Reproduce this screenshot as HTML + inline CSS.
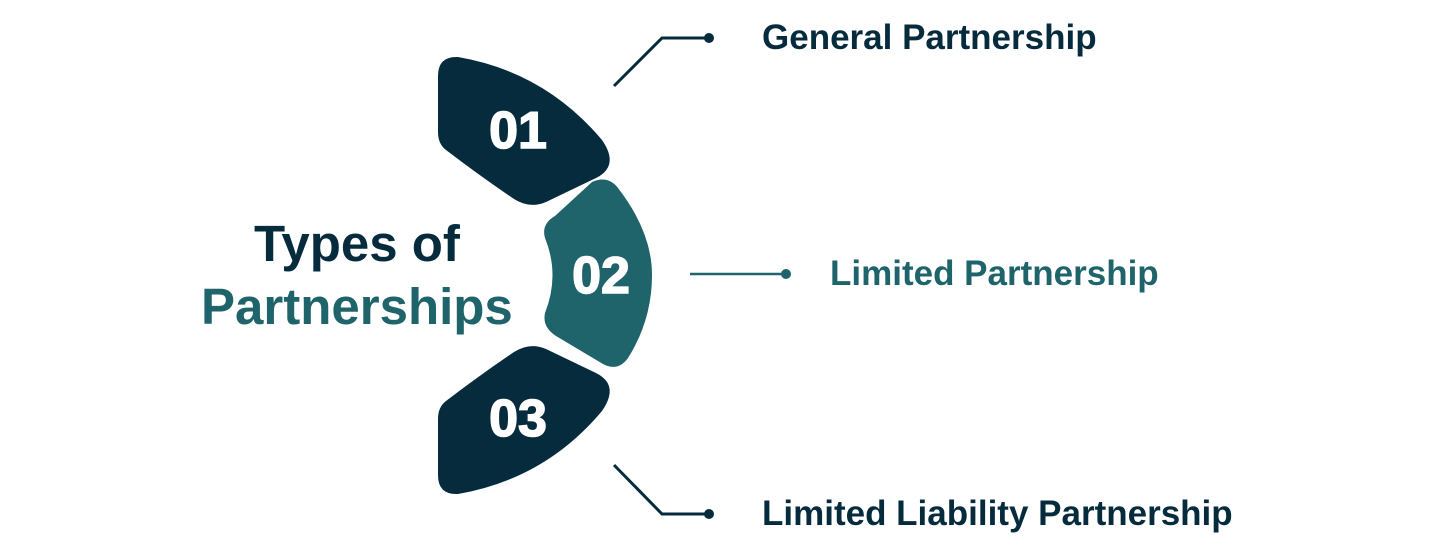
<!DOCTYPE html>
<html><head><style>
body{margin:0;width:1440px;height:551px;background:#fff;overflow:hidden;position:relative;font-family:"Liberation Sans",sans-serif;}
.t{position:absolute;font-weight:bold;white-space:nowrap}
</style></head><body>
<svg width="1440" height="551" style="position:absolute;left:0;top:0">
<path d="M458,57 Q545,72 602,140 Q620,166 596,178 L546,202 Q530,209 514,199 Q480,176 446,150 Q438,144 438,132 L438,76 Q438,56 458,57 Z" fill="#062b3d"/>
<path d="M458,494 Q545,479 602,411 Q620,385 596,373 L546,349 Q530,342 514,352 Q480,375 446,401 Q438,407 438,419 L438,475 Q438,495 458,494 Z" fill="#062b3d"/>
<path d="M592,182 Q608,175 618,188 Q652,232 652,275 Q652,320 628,358 Q618,372 603,364 L556,336 Q542,327 545,313 Q560,275 545,238 Q541,224 555,216 Z" fill="#1f636b"/>
<text x="518" y="148" font-family="Liberation Sans" font-weight="bold" font-size="52" fill="#fff" text-anchor="middle" stroke="#fff" stroke-width="1.5">01</text>
<text x="601" y="293" font-family="Liberation Sans" font-weight="bold" font-size="52" fill="#fff" text-anchor="middle" stroke="#fff" stroke-width="1.5">02</text>
<text x="518" y="436" font-family="Liberation Sans" font-weight="bold" font-size="52" fill="#fff" text-anchor="middle" stroke="#fff" stroke-width="1.5">03</text>
<polyline points="614,86 662,38 708,38" fill="none" stroke="#062b3d" stroke-width="3"/>
<circle cx="709" cy="38" r="5" fill="#062b3d"/>
<line x1="690" y1="274" x2="784" y2="274" stroke="#1f636b" stroke-width="2.5"/>
<circle cx="786" cy="274" r="5" fill="#1f636b"/>
<polyline points="614,465 662,514 708,514" fill="none" stroke="#062b3d" stroke-width="3"/>
<circle cx="709" cy="514" r="5" fill="#062b3d"/>
</svg>
<div class="t" style="left:762px;top:18px;font-size:35px;color:#062b3d">General Partnership</div>
<div class="t" style="left:830px;top:254px;font-size:35px;color:#1f636b">Limited Partnership</div>
<div class="t" style="left:762px;top:494px;font-size:35px;color:#062b3d">Limited Liability Partnership</div>
<div class="t" style="left:254px;top:214px;font-size:51px;color:#062b3d">Types of</div>
<div class="t" style="left:201px;top:277px;font-size:51px;color:#1f636b">Partnerships</div>
</body></html>
